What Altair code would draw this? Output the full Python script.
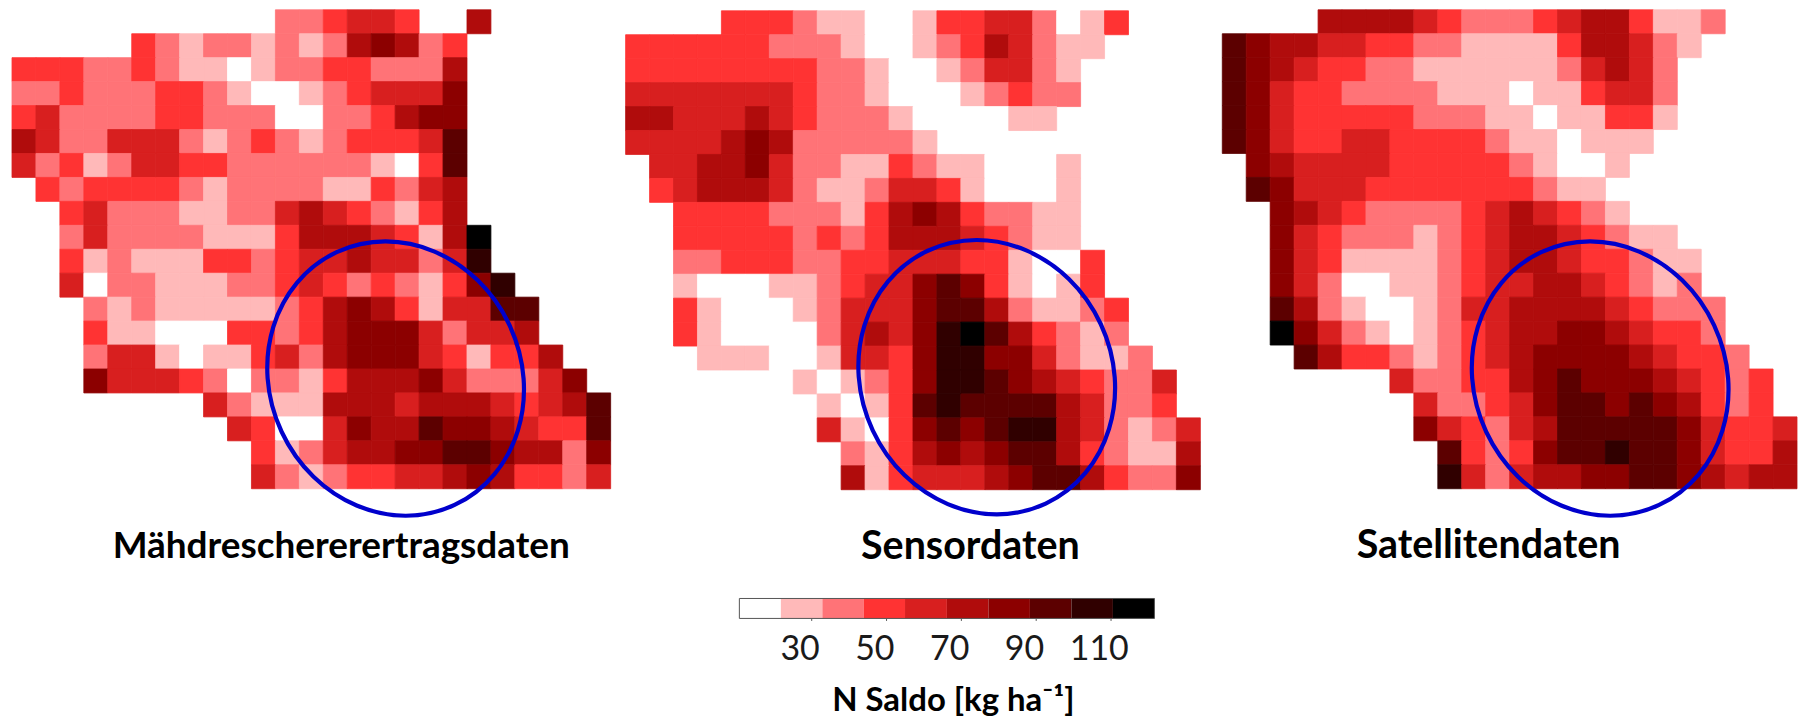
import altair as alt
import pandas as pd

# Class index per cell (0-9), '.' = no cell
ROWS_1 = [
"...........223443..5.....",
".....32122121256523......",
"3332232110122332225......",
"2232223321001234446......",
"3422223322200223566......",
"5422444212321233347......",
"4231244332222221037......",
".323333212222113245......",
"..34222112245432135......",
"..242222111355543159.....",
"..312111332344544248.....",
"..4022111223432321368....",
"...2121111123565314477...",
"...3110003323566642445...",
"...24410113425666431335..",
"...644432022135556422246.",
"........42111555455543457",
".........4300465576654337",
"..........312455667765526",
"..........421233445653324",
]
ROWS_2 = [
"....33321100133442013...",
"33333322210012354211....",
"3333333322100124421.....",
"4444444322100012322.....",
"554445432221000011......",
"4444565222221...........",
".445564221132110001.....",
".345554211244310001.....",
"..33332221356532211.....",
"..33333232355543211.....",
"..223332233444331003....",
"..100011234467631013....",
"..3100012444677521123...",
"..3100002454689753212...",
"...1110014436886642112..",
".......1012368876543224.",
"........101378777754223.",
"........4103676788542124",
".........213565677532115",
".........513444567753226",
]
ROWS_3 = [
"....55554322234553112...",
"76554433221111355421....",
"7654332211111124542.....",
"7643322221110113442.....",
"7643333322211011331.....",
"764334433332110111......",
".6544443333321001.......",
".764443333333211........",
"..654322223454321.......",
"..64322212345543211.....",
"..643111123455433211....",
"..642001123445543212....",
"..7521001244555543222...",
"..9642101234556654332...",
"...7533212345666654332..",
".......4223356766654323.",
"........422346776765323.",
"........6432457777764334",
".........732367787764335",
".........842455667765455",
]
COLORS = ["#ffffff", "#ffb9b9", "#ff7377", "#ff3333", "#d81f1f", "#b00c0c",
          "#8c0000", "#5c0000", "#300000", "#000000"]
EDGES = [10.7, 21.8, 32.9, 44.0, 55.0, 66.2, 77.3, 88.4, 99.5, 110.6, 121.7]
TICKS = [30, 50, 70, 90, 110]
NAMES = ["Mähdreschererertragsdaten", "Sensordaten", "Satellitendaten"]
LEGEND_TITLE = "N Saldo [kg ha⁻¹]"
FONT = "Lato"
BLUE = "#0000cc"
ELLIPSE = "M -0.834,0.389 A 0.92,1.02 -25 1 1 0.834,-0.389 A 0.92,1.02 -25 1 1 -0.834,0.389 Z"

color_scale = alt.Scale(type="threshold", domain=EDGES[1:-1], range=COLORS)


def panel(rows, name, width, xrange, yrange, ecenter, tcenter, tsize):
    recs = []
    for r, line in enumerate(rows):
        for c, ch in enumerate(line):
            if ch != ".":
                k = int(ch)
                recs.append({"c0": c, "c1": c + 1, "r0": r, "r1": r + 1,
                             "v": (EDGES[k] + EDGES[k + 1]) / 2})
    ncols = len(rows[0])
    xs = alt.Scale(domain=[0, ncols], range=xrange, nice=False, zero=False)
    ys = alt.Scale(domain=[0, 20], range=yrange, nice=False, zero=False)
    cells = alt.Chart(pd.DataFrame(recs)).mark_rect(strokeWidth=0.8).encode(
        x=alt.X("c0:Q", scale=xs, axis=None),
        x2="c1:Q",
        y=alt.Y("r0:Q", scale=ys, axis=None),
        y2="r1:Q",
        color=alt.Color("v:Q", scale=color_scale, legend=None),
        stroke=alt.Color("v:Q", scale=color_scale, legend=None),
    )
    ell = alt.Chart(pd.DataFrame([{"c": ecenter[0], "r": ecenter[1]}])).mark_point(
        shape=ELLIPSE, filled=False, stroke=BLUE, strokeWidth=4.2, size=(2 * 137) ** 2,
        opacity=1,
    ).encode(x=alt.X("c:Q", scale=xs, axis=None), y=alt.Y("r:Q", scale=ys, axis=None))
    txt = alt.Chart(pd.DataFrame([{"c": tcenter[0], "r": tcenter[1], "t": name}])).mark_text(
        font=FONT, fontWeight="bold", fontSize=tsize, color="#000000", baseline="alphabetic",
        align="center",
    ).encode(x=alt.X("c:Q", scale=xs, axis=None), y=alt.Y("r:Q", scale=ys, axis=None), text="t:N")
    return alt.layer(cells, ell, txt).properties(width=width, height=570)


p1 = panel(ROWS_1, NAMES[0], 604, [4, 604], [1, 481], (16.02, 15.4), (13.75, 22.9), 37)
p2 = panel(ROWS_2, NAMES[1], 590, [14, 590], [2, 482], (15.08, 15.3), (14.4, 22.9), 39.5)
p3 = panel(ROWS_3, NAMES[2], 597, [21, 597], [1, 481], (15.78, 15.4), (11.12, 22.9), 39.5)

leg = pd.DataFrame({"lo": EDGES[:-1], "hi": EDGES[1:],
                    "v": [(a + b) / 2 for a, b in zip(EDGES[:-1], EDGES[1:])]})
lx = alt.Scale(domain=[EDGES[0], EDGES[-1]], range=[733, 1149], nice=False, zero=False)
bar = alt.Chart(leg).mark_rect(strokeWidth=0).encode(
    x=alt.X("lo:Q", scale=lx, axis=alt.Axis(
        values=TICKS, title=LEGEND_TITLE, domain=False, grid=False,
        tickSize=2, tickColor="#555555", labelOffset=-12, labelPadding=12,
        labelFont=FONT, labelFontSize=34, labelColor="#1a1a1a",
        titleFont=FONT, titleFontSize=33, titleFontWeight="bold", titleColor="#000000",
        titlePadding=18, titleX=947)),
    x2="hi:Q",
    color=alt.Color("v:Q", scale=color_scale, legend=None),
)
frame = alt.Chart(pd.DataFrame([{"a": EDGES[0], "b": EDGES[-1]}])).mark_rect(
    fillOpacity=0, stroke="#555555", strokeWidth=1
).encode(x=alt.X("a:Q", scale=lx), x2="b:Q")
legend = alt.layer(bar, frame).properties(width=1149, height=20)

top = alt.hconcat(p1, p2, p3, spacing=0)
chart = alt.vconcat(top, legend, spacing=20).properties(padding=0).configure_view(
    stroke=None
).configure_concat(spacing=0)
chart.save("out.html", embed_options={"renderer": "svg", "actions": False})
